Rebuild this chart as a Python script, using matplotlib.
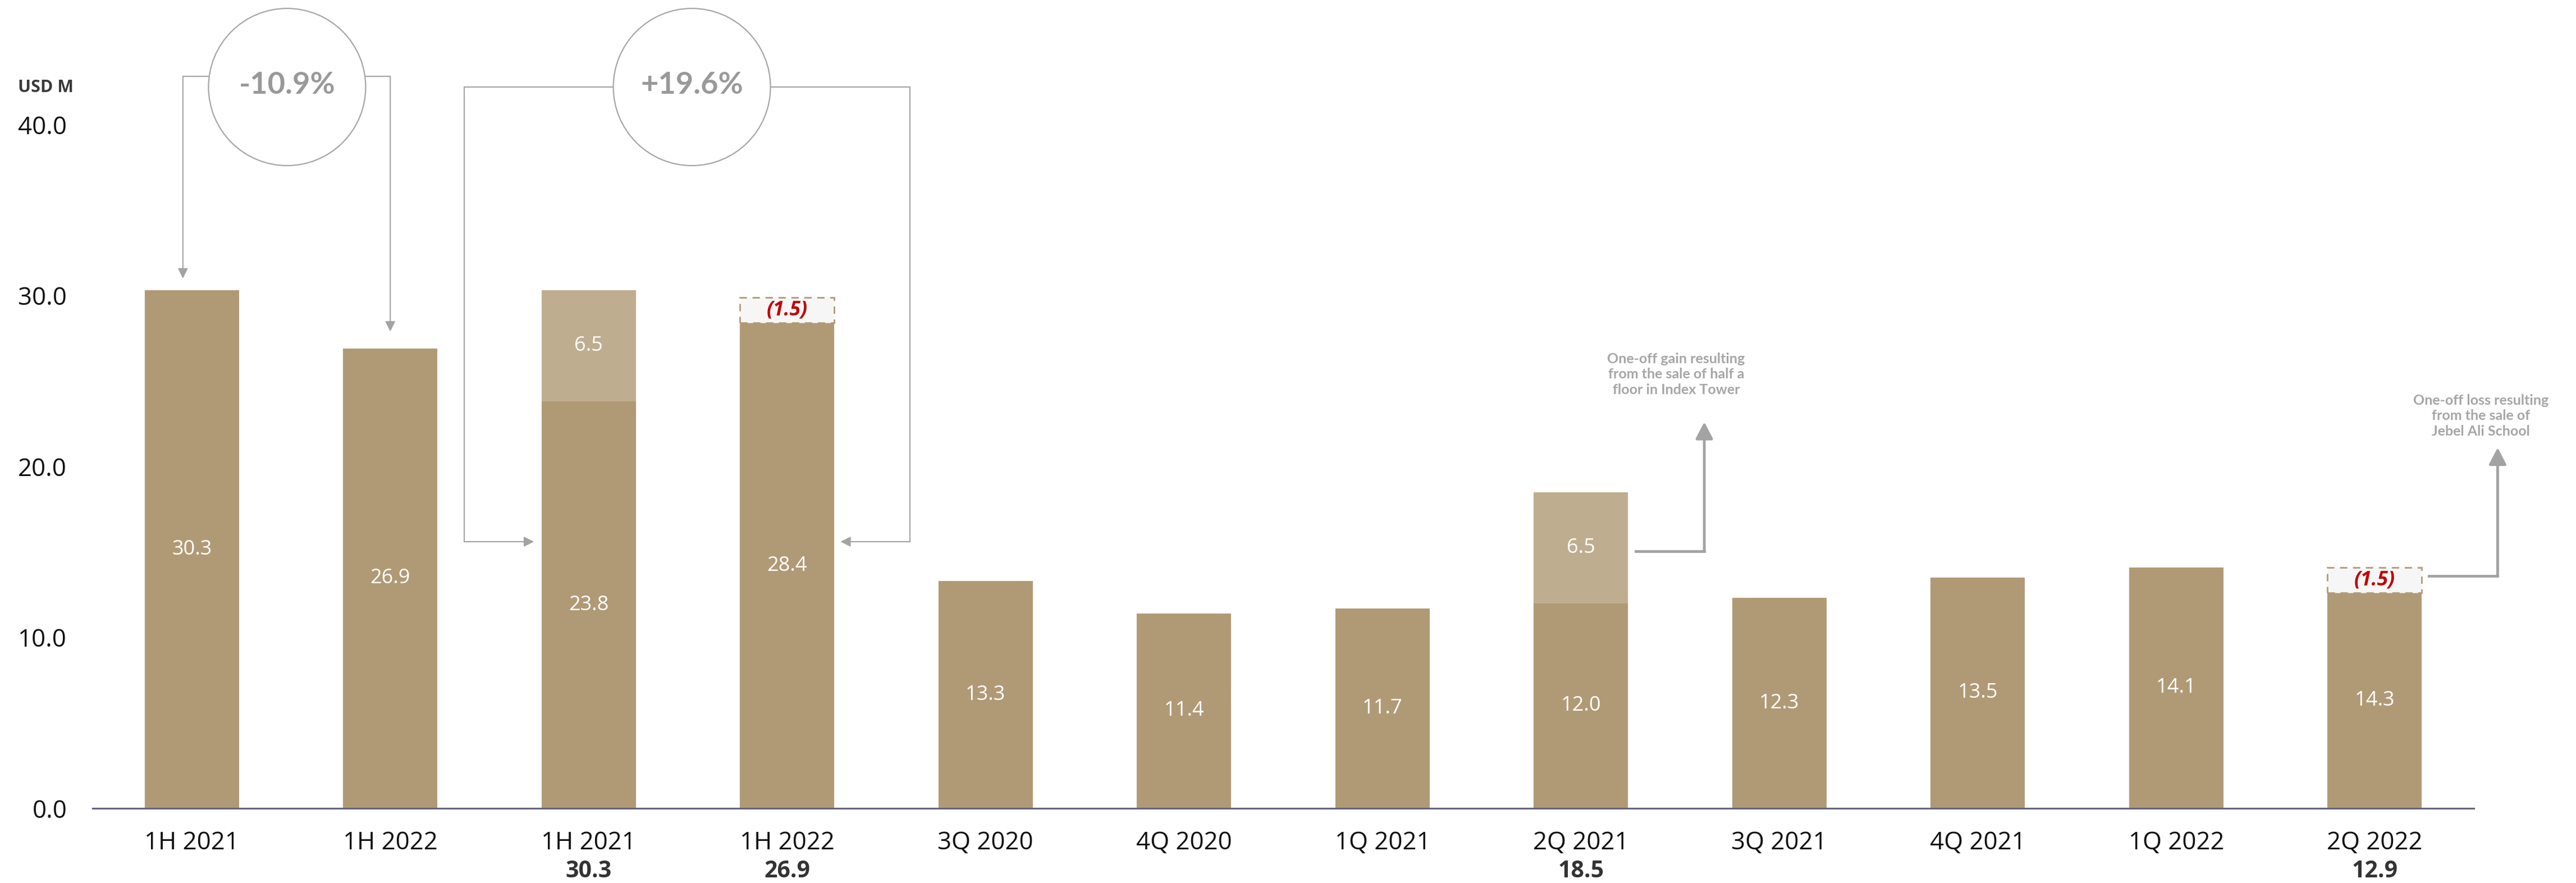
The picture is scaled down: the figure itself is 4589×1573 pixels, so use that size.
import matplotlib
matplotlib.use('Agg')
import matplotlib.pyplot as plt
from matplotlib.patches import Ellipse, Rectangle

# ------------------------- données du graphique -------------------------
periodes = ['1H 2021', '1H 2022', '1H 2021', '1H 2022', '3Q 2020', '4Q 2020',
            '1Q 2021', '2Q 2021', '3Q 2021', '4Q 2021', '1Q 2022', '2Q 2022']
totaux = ['', '', '30.3', '26.9', '', '', '', '18.5', '', '', '', '12.9']
base = [30.3, 26.9, 23.8, 28.4, 13.3, 11.4, 11.7, 12.0, 12.3, 13.5, 14.1, 12.6]
base_lbl = ['30.3', '26.9', '23.8', '28.4', '13.3', '11.4', '11.7', '12.0',
            '12.3', '13.5', '14.1', '14.3']
gain = [0, 0, 6.5, 0, 0, 0, 0, 6.5, 0, 0, 0, 0]      # one-off gain (empilé)
perte = [0, 0, 0, 1.5, 0, 0, 0, 0, 0, 0, 0, 1.5]     # one-off loss (boîte pointillée)
variations = ['-10.9%', '+19.6%']
notes = ['One-off gain resulting\nfrom the sale of half a\nfloor in Index Tower',
         'One-off loss resulting\nfrom the sale of\nJebel Ali School']
yticks = [0, 10, 20, 30, 40]

# ------------------------- styles -------------------------
plt.rcParams['font.family'] = ['Open Sans', 'DejaVu Sans']
c_fonce = '#b09a76'
c_clair = '#bfad8f'
c_gris = '#a6a6a6'
c_fleche = '#a3a3a3'
larg = 0.4755

fig = plt.figure(figsize=(45.89, 15.73), dpi=100)
ax = fig.add_axes([165 / 4589, 133 / 1573, 4242 / 4589, 1218 / 1573])
ax.set_xlim(-0.5, 11.5)
ax.set_ylim(0, 40)

x = list(range(len(periodes)))

# barres
ax.bar(x, base, width=larg, color=c_fonce, zorder=2)
ax.bar(x, gain, width=larg, bottom=base, color=c_clair, zorder=2)

for i in x:
    ax.text(i, base[i] / 2, base_lbl[i], ha='center', va='center',
            color='white', fontsize=26, zorder=4)
    if gain[i] > 0:
        ax.text(i, base[i] + gain[i] / 2, '%.1f' % gain[i], ha='center',
                va='center', color='white', fontsize=26, zorder=4)
    if perte[i] > 0:
        r = Rectangle((i - larg / 2, base[i]), larg, perte[i], facecolor='#f6f6f6',
                      edgecolor=c_fonce, lw=2, linestyle=(0, (4.7, 3.6)), zorder=3)
        ax.add_patch(r)
        ax.text(i, base[i] + perte[i] / 2, '(%.1f)' % perte[i], ha='center',
                va='center', color='#c00000', fontsize=25.5, fontweight='bold',
                fontstyle='italic', zorder=4)
    # étiquettes de l'axe x (deux lignes)
    ax.text(i, -2.40, periodes[i], ha='center', va='baseline', fontsize=31.5,
            color='#111111', clip_on=False)
    if totaux[i]:
        ax.text(i, -4.05, totaux[i], ha='center', va='baseline', fontsize=29.5,
                fontweight='bold', color='#333333', clip_on=False)

# axes
for s in ['top', 'right', 'left']:
    ax.spines[s].set_visible(False)
ax.spines['bottom'].set_color('#62627e')
ax.spines['bottom'].set_linewidth(2.2)
ax.set_xticks([])
ax.set_yticks(yticks)
ax.set_yticklabels(['%.1f' % v for v in yticks])
ax.tick_params(axis='y', length=0, pad=33, labelsize=31.5, labelcolor='#111111')
ax.text(-0.875, 41.9, 'USD M', ha='left', va='baseline', fontsize=22,
        fontweight='bold', color='#3a3a3a', clip_on=False)

# ------------------------- cercles de variation -------------------------
cx = [0.48, 2.52]
cy = 42.2
cw = 280 / 353.5
ch = 280 / 30.45
for k in range(2):
    e = Ellipse((cx[k], cy), cw, ch, facecolor='white', edgecolor=c_gris,
                lw=1.6, clip_on=False, zorder=5)
    ax.add_patch(e)
    ax.text(cx[k], cy + 0.1, variations[k], ha='center', va='center',
            fontsize=39, color='#999999', family=['Lato', 'DejaVu Sans'],
            fontweight='bold', zorder=6, clip_on=False)


def bord(k, y, cote):
    dy = (y - cy) / (ch / 2)
    return cx[k] + cote * (cw / 2) * (1 - dy ** 2) ** 0.5


def fleche(pts, lw, style):
    xs = [p[0] for p in pts]
    ys = [p[1] for p in pts]
    if len(pts) > 2:
        ax.plot(xs[:-1], ys[:-1], color=c_fleche, lw=lw, clip_on=False,
                solid_capstyle='projecting', solid_joinstyle='miter', zorder=1)
    ax.annotate('', xy=pts[-1], xytext=pts[-2], annotation_clip=False,
                arrowprops=dict(arrowstyle=style, color=c_fleche, lw=lw,
                                shrinkA=0, shrinkB=0, mutation_scale=20))


petite = '-|>,head_length=0.54,head_width=0.27'
grosse = '-|>,head_length=0.9,head_width=0.47'

# -10.9 % : 1H 2021 -> 1H 2022
yl = cy + 0.62
fleche([(bord(0, yl, -1), yl), (-0.045, yl), (-0.045, base[0] + 0.7)], 1.5, petite)
fleche([(bord(0, yl, 1), yl), (1.0, yl), (1.0, base[1] + 1.0)], 1.5, petite)

# +19.6 % : 1H 2021 normalisé -> 1H 2022 normalisé
yc = 15.6
fleche([(bord(1, cy, -1), cy), (1.373, cy), (1.373, yc), (2 - larg / 2 - 0.038, yc)],
       1.5, petite)
fleche([(bord(1, cy, 1), cy), (3.62, cy), (3.62, yc), (3 + larg / 2 + 0.031, yc)],
       1.5, petite)

# ------------------------- notes one-off -------------------------
fleche([(7 + larg / 2 + 0.04, 15.05), (7.622, 15.05), (7.622, 22.6)], 3.5, grosse)
fleche([(11 + larg / 2 + 0.036, 13.6), (11.62, 13.6), (11.62, 21.1)], 3.5, grosse)

ax.text(7.48, 25.39, notes[0], ha='center', va='center', fontsize=18,
        color=c_gris, linespacing=1.25, family=['Lato', 'DejaVu Sans'],
        fontweight='bold', clip_on=False)
ax.text(11.535, 22.96, notes[1], ha='center', va='center', fontsize=18,
        color=c_gris, linespacing=1.25, family=['Lato', 'DejaVu Sans'],
        fontweight='bold', clip_on=False)

fig.savefig('out.png', dpi=100, facecolor='white')
